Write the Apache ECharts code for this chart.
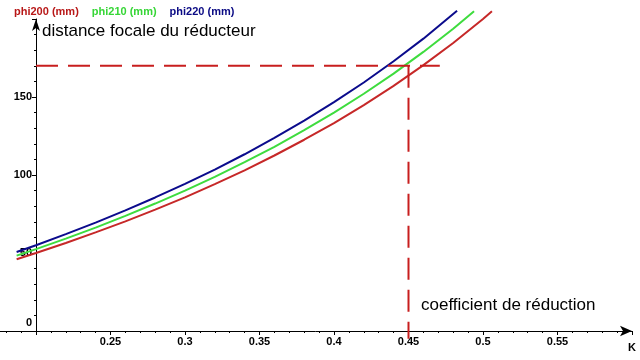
<!DOCTYPE html>
<html>
<head>
<meta charset="utf-8">
<script src="https://cdn.jsdelivr.net/npm/echarts@6/dist/echarts.min.js"></script>
<style>html,body{margin:0;padding:0;background:#fff}#c{width:640px;height:360px}</style>
</head>
<body>
<div id="c"></div>
<script>
// Series names
var names = ['phi200 (mm)', 'phi210 (mm)', 'phi220 (mm)'];
// K values (reduction coefficient) for each curve
var kRed   = [0.187, 0.20, 0.22, 0.24, 0.26, 0.28, 0.30, 0.32, 0.34, 0.36, 0.38, 0.40, 0.42, 0.44, 0.46, 0.48, 0.50, 0.506];
var fRed   = [46.0, 50.0, 56.4, 63.2, 70.3, 77.8, 85.7, 94.1, 103.0, 112.5, 122.6, 133.3, 144.8, 157.1, 170.4, 184.6, 200.0, 204.9];
var kGreen = [0.187, 0.20, 0.22, 0.24, 0.26, 0.28, 0.30, 0.32, 0.34, 0.36, 0.38, 0.40, 0.42, 0.44, 0.46, 0.48, 0.494];
var fGreen = [48.3, 52.5, 59.2, 66.3, 73.8, 81.7, 90.0, 98.8, 108.2, 118.1, 128.7, 140.0, 152.1, 165.0, 178.9, 193.8, 205.0];
var kBlue  = [0.187, 0.20, 0.22, 0.24, 0.26, 0.28, 0.30, 0.32, 0.34, 0.36, 0.38, 0.40, 0.42, 0.44, 0.46, 0.4826];
var fBlue  = [50.6, 55.0, 62.1, 69.5, 77.3, 85.6, 94.3, 103.5, 113.3, 123.8, 134.8, 146.7, 159.3, 172.9, 187.4, 205.3];
// reference point (dashed guides)
var refK = 0.45;
var refF = 170;
var refHStartK = 0.2;
var refHEndK = 0.471;
var refVEndF = -5;
// axis ticks
var xTicks = [0.25, 0.3, 0.35, 0.4, 0.45, 0.5, 0.55];
var yTicks = [0, 50, 100, 150];

var colors = ['#c62828', '#3edc3e', '#0b0b8c'];
var legendColors = ['#b81818', '#36d636', '#0a0a84'];

function pairs(k, f) { return k.map(function (v, i) { return [v, f[i]]; }); }

var chart = echarts.init(document.getElementById('c'), null, {renderer: 'canvas'});
var font = '"Liberation Sans", Arial, sans-serif';
var dashStyle = {color: '#c81e1e', width: 2, type: [22, 10]};

var option = {
  animation: false,
  backgroundColor: '#ffffff',
  textStyle: {fontFamily: font},
  legend: {
    left: 4, top: 1, icon: 'none', itemWidth: 0, itemHeight: 10, itemGap: 8,
    selectedMode: false,
    textStyle: {fontSize: 11, fontWeight: 'bold', fontFamily: font},
    data: names.map(function (n, i) { return {name: n, textStyle: {color: legendColors[i]}}; })
  },
  grid: {left: -38.5, width: 670.5, top: 19, bottom: 29, containLabel: false, outerBoundsMode: 'none'},
  xAxis: {
    type: 'value', min: 0.15, max: 0.6, interval: 0.05,
    axisLine: {show: true, onZero: false, symbol: ['none', 'arrow'], symbolSize: [8, 12], lineStyle: {color: '#000', width: 1}},
    axisTick: {show: true, length: 4, lineStyle: {color: '#000'}},
    minorTick: {show: true, splitNumber: 5, length: 2, lineStyle: {color: '#000'}},
    splitLine: {show: false},
    axisLabel: {
      margin: 5, color: '#000', fontSize: 11, fontWeight: 'bold', fontFamily: font,
      showMinLabel: false, showMaxLabel: false,
      formatter: function (v) {
        var r = Math.round(v * 100) / 100;
        return xTicks.indexOf(r) >= 0 ? String(r) : '';
      }
    }
  },
  yAxis: {
    type: 'value', min: 0, max: 200, interval: 50, offset: -74.5,
    axisLine: {show: true, onZero: false, symbol: ['none', 'arrow'], symbolSize: [6, 12], lineStyle: {color: '#000', width: 1}},
    axisTick: {show: true, length: 4, lineStyle: {color: '#000'}},
    minorTick: {show: true, splitNumber: 5, length: 2, lineStyle: {color: '#000'}},
    splitLine: {show: false},
    axisLabel: {
      margin: 4, color: '#000', fontSize: 11, fontWeight: 'bold', fontFamily: font,
      showMaxLabel: false,
      formatter: function (v) {
        if (yTicks.indexOf(v) < 0) return '';
        return v === 0 ? '{z|0}' : String(v);
      },
      rich: {z: {fontSize: 11, fontWeight: 'bold', fontFamily: font, color: '#000', padding: [0, 0, 16, 0]}}
    }
  },
  graphic: [
    {type: 'text', left: 42, top: 23, style: {text: 'distance focale du réducteur', fontSize: 17, fontFamily: font, fill: '#000'}},
    {type: 'text', left: 421, top: 297, style: {text: 'coefficient de réduction', fontSize: 17, fontFamily: font, fill: '#000'}},
    {type: 'text', left: 628, top: 342, style: {text: 'K', fontSize: 11, fontWeight: 'bold', fontFamily: font, fill: '#000'}}
  ],
  series: [
    {name: names[0], type: 'line', data: pairs(kRed, fRed), showSymbol: false, clip: false, lineStyle: {color: colors[0], width: 2}, itemStyle: {color: colors[0]}, z: 3},
    {name: names[1], type: 'line', data: pairs(kGreen, fGreen), showSymbol: false, clip: false, lineStyle: {color: colors[1], width: 2}, itemStyle: {color: colors[1]}, z: 3},
    {name: names[2], type: 'line', data: pairs(kBlue, fBlue), showSymbol: false, clip: false, lineStyle: {color: colors[2], width: 2}, itemStyle: {color: colors[2]}, z: 3},
    {name: 'refH', type: 'line', data: [[refHStartK, refF], [refHEndK, refF]], showSymbol: false, clip: false, lineStyle: dashStyle, z: 4},
    {name: 'refV', type: 'line', data: [[refK, refF], [refK, refVEndF]], showSymbol: false, clip: false, lineStyle: dashStyle, z: 4}
  ]
};
chart.setOption(option);
</script>
</body>
</html>
